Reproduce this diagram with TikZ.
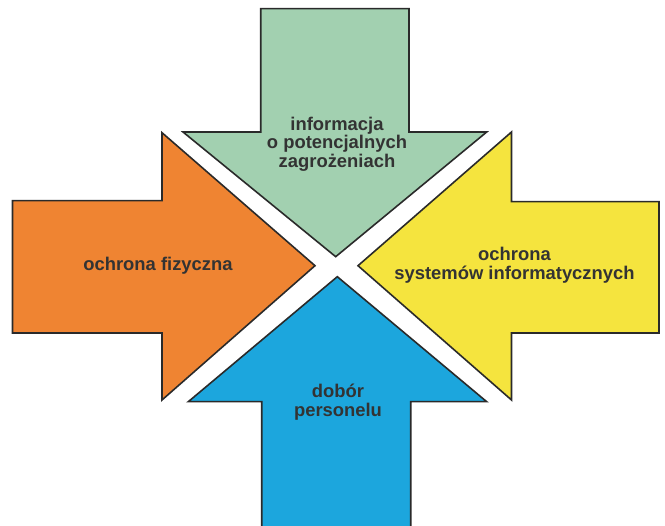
\documentclass[tikz,border=0pt]{standalone}
\usepackage{fontspec}
\setmainfont{Liberation Sans}
\definecolor{infogreen}{HTML}{A2D0B0}
\definecolor{fizorange}{HTML}{EF8432}
\definecolor{sysyellow}{HTML}{F5E43E}
\definecolor{persblue}{HTML}{1CA6DD}
\definecolor{edge}{HTML}{2A2A2A}
\definecolor{label}{HTML}{333333}
\begin{document}
\begin{tikzpicture}[x=1pt,y=-1pt,
  arrowshape/.style={draw=edge,line width=1.6pt,line join=miter},
  caption/.style={font=\bfseries\fontsize{18.4}{18.6}\selectfont,text=label,align=center,inner sep=0pt}]
\useasboundingbox (0,0) rectangle (665,526);
% top arrow pointing down
\draw[arrowshape,fill=infogreen] (260.7,8.7) -- (409,8.7) -- (409,132) -- (486.7,132)
  -- (335.7,256.7) -- (183,132) -- (260.7,132) -- cycle;
% left arrow pointing right
\draw[arrowshape,fill=fizorange] (12.5,200.7) -- (162,200.7) -- (162,132.7) -- (315,265.7)
  -- (162,400) -- (162,333) -- (12.5,333) -- cycle;
% right arrow pointing left
\draw[arrowshape,fill=sysyellow] (659,201.7) -- (511.5,201.7) -- (511.5,132) -- (358,265.7)
  -- (511.5,400) -- (511.5,333) -- (659,333) -- cycle;
% bottom arrow pointing up
\draw[arrowshape,fill=persblue] (261.7,526) -- (261.7,401.7) -- (188.3,401.7) -- (337.3,276.7)
  -- (486.7,401.7) -- (410.7,401.7) -- (410.7,526);
% labels
\node[caption] (info) at (337,144) {informacja\\o potencjalnych\\zagrożeniach};
\node[caption] (fiz) at (158,266) {ochrona fizyczna};
\node[caption] (sys) at (514.5,265.5) {ochrona\\systemów informatycznych};
\node[caption] (pers) at (338,402) {dobór\\personelu};
\end{tikzpicture}
\end{document}
